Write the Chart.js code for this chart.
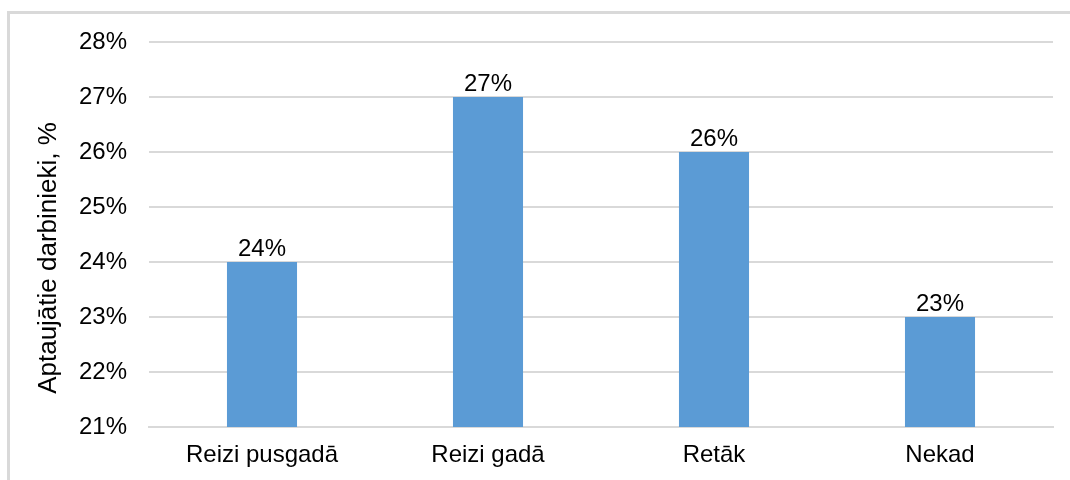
<!DOCTYPE html>
<html>
<head>
<meta charset="utf-8">
<script src="https://cdn.jsdelivr.net/npm/chart.js@4/dist/chart.umd.min.js"></script>
<style>
  html, body { margin: 0; padding: 0; background: #fff; overflow: hidden; }
  #wrap { position: absolute; left: 0; top: 0; width: 1070px; height: 480px; }
  #frame { position: absolute; left: 7px; top: 11px; width: 1100px; height: 500px; border: 3px solid #d9d9d9; box-sizing: border-box; }
  canvas { position: absolute; left: 0; top: 0; }
</style>
</head>
<body>
<div id="wrap">
  <div id="frame"></div>
  <canvas id="c" width="1070" height="480"></canvas>
</div>
<script>
const categories = ["Reizi pusgadā", "Reizi gadā", "Retāk", "Nekad"];
const values = [24, 27, 26, 23];
const yTitle = "Aptaujātie darbinieki, %";
const yMin = 21, yMax = 28;

const FONT = "'Liberation Sans', Arial, sans-serif";
const SIZE = 24;

const labelPlugin = {
  id: 'barLabels',
  afterDatasetsDraw(chart) {
    const ctx = chart.ctx;
    const meta = chart.getDatasetMeta(0);
    ctx.save();
    ctx.font = SIZE + 'px ' + FONT;
    ctx.fillStyle = '#000';
    ctx.textAlign = 'center';
    ctx.textBaseline = 'alphabetic';
    meta.data.forEach((bar, i) => {
      ctx.fillText(values[i] + '%', bar.x, bar.y - 6);
    });
    // y-axis title
    ctx.translate(56, 258);
    ctx.rotate(-Math.PI / 2);
    ctx.font = '26px ' + FONT;
    ctx.textAlign = 'center';
    ctx.textBaseline = 'alphabetic';
    ctx.fillText(yTitle, 0, 0);
    ctx.restore();
  }
};

new Chart(document.getElementById('c'), {
  type: 'bar',
  data: {
    labels: categories,
    datasets: [{
      data: values,
      backgroundColor: '#5B9BD5',
      borderWidth: 0,
      barPercentage: 0.62,
      categoryPercentage: 0.5
    }]
  },
  options: {
    responsive: false,
    animation: false,
    devicePixelRatio: 1,
    layout: { padding: { left: 0, right: 17, top: 42, bottom: 0 } },
    plugins: { legend: { display: false }, tooltip: { enabled: false } },
    scales: {
      x: {
        grid: { display: false, drawTicks: false },
        border: { display: true, color: '#d9d9d9', width: 2 },
        ticks: { color: '#000', font: { family: FONT, size: SIZE }, padding: 14 },
        afterFit(s) { s.height = 53; }
      },
      y: {
        min: yMin, max: yMax,
        grid: { color: '#d9d9d9', lineWidth: 2, drawTicks: false },
        border: { display: false },
        ticks: {
          stepSize: 1,
          color: '#000',
          font: { family: FONT, size: SIZE },
          padding: 22,
          callback: v => v + '%'
        },
        title: { display: false },
        afterFit(s) { s.width = 149; }
      }
    }
  },
  plugins: [labelPlugin]
});
</script>
</body>
</html>
